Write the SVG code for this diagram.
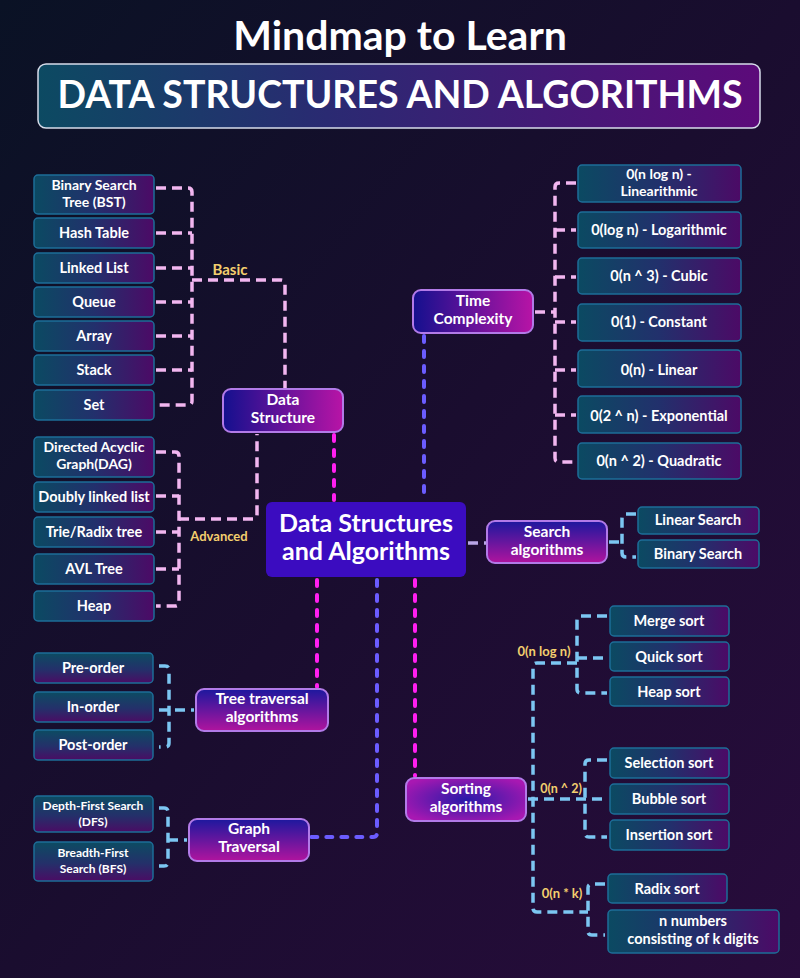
<svg xmlns="http://www.w3.org/2000/svg" width="800" height="978" viewBox="0 0 800 978">
<defs>
<linearGradient id="bg" x1="0" y1="0" x2="1" y2="1">
<stop offset="0" stop-color="#0a1225"/>
<stop offset="0.5" stop-color="#1a0d2f"/>
<stop offset="1" stop-color="#280c3c"/>
</linearGradient>
<linearGradient id="titleG" x1="0" y1="0" x2="1" y2="0">
<stop offset="0" stop-color="#0c4a62"/>
<stop offset="0.4" stop-color="#2a2a72"/>
<stop offset="1" stop-color="#5c0a7a"/>
</linearGradient>
<linearGradient id="leafH" x1="0" y1="0" x2="1" y2="0">
<stop offset="0" stop-color="#0b4a62"/>
<stop offset="0.5" stop-color="#22306c"/>
<stop offset="1" stop-color="#4c0a66"/>
</linearGradient>
<linearGradient id="leafV" x1="0" y1="0" x2="0" y2="1">
<stop offset="0" stop-color="#0c4c62"/>
<stop offset="0.55" stop-color="#24306a"/>
<stop offset="1" stop-color="#4a0c64"/>
</linearGradient>
<linearGradient id="catH" x1="0" y1="0" x2="1" y2="0">
<stop offset="0" stop-color="#14108e"/>
<stop offset="1" stop-color="#b814a6"/>
</linearGradient>
<linearGradient id="catV" x1="0" y1="0" x2="0" y2="1">
<stop offset="0" stop-color="#1c189e"/>
<stop offset="1" stop-color="#b0149e"/>
</linearGradient>
<radialGradient id="catR" cx="0.5" cy="0.5" r="0.6">
<stop offset="0" stop-color="#2a1aa8"/>
<stop offset="1" stop-color="#a818b2"/>
</radialGradient>
<style>
.t{font-family:Lato,"Noto Sans",sans-serif;font-weight:700;fill:#ffffff;text-anchor:middle}
.leaf{font-size:14.5px}
.l2{font-size:14px}
.sm{font-size:12px}
.cat{font-size:15.5px}
.lbl{font-family:Lato,"Noto Sans",sans-serif;font-weight:700;fill:#f3cf6e;text-anchor:middle}
.lh{fill:url(#leafH);stroke:#1d6d98;stroke-width:1.5}
.lv{fill:url(#leafV);stroke:#1d6d98;stroke-width:1.5}
.ch{fill:url(#catH);stroke:#b27ae8;stroke-width:2}
.cv{fill:url(#catV);stroke:#b27ae8;stroke-width:2}
.cr{fill:url(#catR);stroke:#b27ae8;stroke-width:2}
.c{fill:none;stroke-width:3.5}
.pink{stroke:#f2b6f0;stroke-dasharray:10 6}
.blue{stroke:#7cc6f2;stroke-dasharray:10 6}
.lav{stroke:#b9a5e8;stroke-dasharray:10 6}
.mag{stroke:#ff1ff0;stroke-dasharray:6 9;stroke-linecap:round;stroke-width:4}
.vio{stroke:#6b5cff;stroke-dasharray:6 9;stroke-linecap:round;stroke-width:4}
</style>
</defs>
<rect x="0" y="0" width="800" height="978" fill="url(#bg)"/>

<g id="title">
<text class="t" x="400" y="50" font-size="41">Mindmap to Learn</text>
<rect x="38" y="64" width="722" height="64" rx="8" fill="url(#titleG)" stroke="#d6dcea" stroke-width="1.5"/>
<text class="t" x="400" y="108" font-size="37.5">DATA STRUCTURES AND ALGORITHMS</text>
</g>

<g id="connectors">
<path class="c pink" d="M156 188 H188 Q192 188 192 192 V401 Q192 405 188 405 H156"/>
<path class="c pink" d="M156 233 H192 M156 268 H192 M156 302 H192 M156 336 H192 M156 370 H192"/>
<path class="c pink" d="M192 280 H281 Q285 280 285 284 V389"/>
<path class="c pink" d="M156 452 H175 Q179 452 179 456 V602 Q179 606 175 606 H156"/>
<path class="c pink" d="M156 496 H179 M156 532 H179 M156 569 H179"/>
<path class="c pink" d="M179 519 H253 Q257 519 257 515 V434"/>
<path class="c pink" d="M535 312 H555"/>
<path class="c pink" d="M576 183 H559 Q555 183 555 187 V458 Q555 462 559 462 H576"/>
<path class="c pink" d="M555 230 H576 M555 277 H576 M555 322 H576 M555 370 H576 M555 415 H576"/>
<path class="c vio" d="M424 336 V500"/>
<path class="c mag" d="M334 435 V500"/>
<path class="c lav" d="M468 543 H487"/>
<path class="c mag" d="M415 580 V776"/>
<path class="c mag" d="M317 580 V687"/>
<path class="c vio" d="M377 580 V833 Q377 837 373 837 H311"/>
<path class="c blue" d="M609 542 H622"/>
<path class="c blue" d="M636 514 H626 Q622 514 622 518 V553 Q622 557 626 557 H636"/>
<path class="c blue" d="M607 616 H581 Q577 616 577 620 V689 Q577 693 581 693 H607"/>
<path class="c blue" d="M577 658 H607"/>
<path class="c blue" d="M577 663 H537 Q533 663 533 667 V908 Q533 912 537 912 H588"/>
<path class="c blue" d="M528 799 H607"/>
<path class="c blue" d="M607 760 H589 Q585 760 585 764 V833 Q585 837 589 837 H607"/>
<path class="c blue" d="M605 884 H592 Q588 884 588 888 V931 Q588 935 592 935 H605"/>
<path class="c blue" d="M159 666 H165 Q169 666 169 670 V743 Q169 747 165 747 H159"/>
<path class="c blue" d="M159 710 H194"/>
<path class="c blue" d="M159 808 H164 Q168 808 168 812 V862 Q168 866 164 866 H159"/>
<path class="c blue" d="M168 840 H187"/>
</g>

<g id="labels">
<text class="lbl" x="230" y="275" font-size="15">Basic</text>
<text class="lbl" x="219" y="541" font-size="13">Advanced</text>
<text class="lbl" x="544" y="656" font-size="13">0(n log n)</text>
<text class="lbl" x="561" y="793" font-size="12.5">0(n ^ 2)</text>
<text class="lbl" x="562" y="898" font-size="13">0(n * k)</text>
</g>

<g id="main">
<rect x="266" y="502" width="200" height="75" rx="6" fill="#3b0cc0"/>
<text class="t" x="366" y="532" font-size="25">Data Structures</text>
<text class="t" x="366" y="560" font-size="25">and Algorithms</text>
</g>

<g id="data-structure">
<rect class="ch" x="223" y="389" width="120" height="43" rx="8"/>
<text class="t cat" x="283" y="405">Data</text>
<text class="t cat" x="283" y="423">Structure</text>
</g>
<g id="bst"><rect class="lh" x="34" y="175" width="120" height="39" rx="4"/><text class="t l2" x="94" y="190">Binary Search</text><text class="t l2" x="94" y="207">Tree (BST)</text></g>
<g id="hash-table"><rect class="lh" x="34" y="218" width="120" height="30" rx="4"/><text class="t leaf" x="94" y="238">Hash Table</text></g>
<g id="linked-list"><rect class="lh" x="34" y="253" width="120" height="30" rx="4"/><text class="t leaf" x="94" y="273">Linked List</text></g>
<g id="queue"><rect class="lh" x="34" y="287" width="120" height="30" rx="4"/><text class="t leaf" x="94" y="307">Queue</text></g>
<g id="array"><rect class="lh" x="34" y="321" width="120" height="30" rx="4"/><text class="t leaf" x="94" y="341">Array</text></g>
<g id="stack"><rect class="lh" x="34" y="355" width="120" height="30" rx="4"/><text class="t leaf" x="94" y="375">Stack</text></g>
<g id="set"><rect class="lh" x="34" y="390" width="120" height="30" rx="4"/><text class="t leaf" x="94" y="410">Set</text></g>

<g id="dag"><rect class="lh" x="34" y="437" width="120" height="40" rx="4"/><text class="t l2" x="94" y="452">Directed Acyclic</text><text class="t l2" x="94" y="469">Graph(DAG)</text></g>
<g id="doubly"><rect class="lh" x="34" y="482" width="120" height="30" rx="4"/><text class="t leaf" x="94" y="502">Doubly linked list</text></g>
<g id="trie"><rect class="lh" x="34" y="517" width="120" height="30" rx="4"/><text class="t leaf" x="94" y="537">Trie/Radix tree</text></g>
<g id="avl"><rect class="lh" x="34" y="554" width="120" height="30" rx="4"/><text class="t leaf" x="94" y="574">AVL Tree</text></g>
<g id="heap"><rect class="lh" x="34" y="591" width="120" height="30" rx="4"/><text class="t leaf" x="94" y="611">Heap</text></g>

<g id="time-complexity">
<rect class="ch" x="413" y="290" width="120" height="43" rx="8"/>
<text class="t cat" x="473" y="306">Time</text>
<text class="t cat" x="473" y="324">Complexity</text>
</g>
<g id="tc-nlogn"><rect class="lh" x="578" y="165" width="163" height="37" rx="4"/><text class="t l2" x="659" y="179">0(n log n) -</text><text class="t l2" x="659" y="196">Linearithmic</text></g>
<g id="tc-logn"><rect class="lh" x="578" y="212" width="163" height="36" rx="4"/><text class="t leaf" x="659" y="235">0(log n) - Logarithmic</text></g>
<g id="tc-n3"><rect class="lh" x="578" y="258" width="163" height="36" rx="4"/><text class="t leaf" x="659" y="281">0(n ^ 3) - Cubic</text></g>
<g id="tc-1"><rect class="lh" x="578" y="304" width="163" height="37" rx="4"/><text class="t leaf" x="659" y="327">0(1) - Constant</text></g>
<g id="tc-n"><rect class="lh" x="578" y="350" width="163" height="37" rx="4"/><text class="t leaf" x="659" y="375">0(n) - Linear</text></g>
<g id="tc-2n"><rect class="lh" x="578" y="396" width="163" height="37" rx="4"/><text class="t leaf" x="659" y="421">0(2 ^ n) - Exponential</text></g>
<g id="tc-n2"><rect class="lh" x="578" y="443" width="163" height="36" rx="4"/><text class="t leaf" x="659" y="466">0(n ^ 2) - Quadratic</text></g>

<g id="search">
<rect class="cv" x="487" y="521" width="120" height="42" rx="8"/>
<text class="t cat" x="547" y="537">Search</text>
<text class="t cat" x="547" y="555">algorithms</text>
</g>
<g id="linear-search"><rect class="lh" x="638" y="507" width="121" height="27" rx="4"/><text class="t leaf" x="698" y="525">Linear Search</text></g>
<g id="binary-search"><rect class="lh" x="638" y="540" width="121" height="28" rx="4"/><text class="t leaf" x="698" y="559">Binary Search</text></g>

<g id="sorting">
<rect class="cr" x="406" y="778" width="120" height="43" rx="8"/>
<text class="t cat" x="466" y="794">Sorting</text>
<text class="t cat" x="466" y="812">algorithms</text>
</g>
<g id="merge-sort"><rect class="lh" x="610" y="606" width="119" height="30" rx="4"/><text class="t leaf" x="669" y="626">Merge sort</text></g>
<g id="quick-sort"><rect class="lh" x="610" y="642" width="119" height="29" rx="4"/><text class="t leaf" x="669" y="662">Quick sort</text></g>
<g id="heap-sort"><rect class="lh" x="610" y="677" width="119" height="29" rx="4"/><text class="t leaf" x="669" y="697">Heap sort</text></g>
<g id="selection-sort"><rect class="lh" x="610" y="748" width="119" height="30" rx="4"/><text class="t leaf" x="669" y="768">Selection sort</text></g>
<g id="bubble-sort"><rect class="lh" x="610" y="784" width="119" height="30" rx="4"/><text class="t leaf" x="669" y="804">Bubble sort</text></g>
<g id="insertion-sort"><rect class="lh" x="610" y="820" width="119" height="30" rx="4"/><text class="t leaf" x="669" y="840">Insertion sort</text></g>
<g id="radix-sort"><rect class="lh" x="608" y="874" width="119" height="29" rx="4"/><text class="t leaf" x="667" y="894">Radix sort</text></g>
<g id="n-numbers"><rect class="lh" x="608" y="910" width="171" height="43" rx="4"/><text class="t leaf" x="693" y="926">n numbers</text><text class="t leaf" x="693" y="944">consisting of k digits</text></g>

<g id="tree-traversal">
<rect class="cv" x="196" y="689" width="132" height="42" rx="8"/>
<text class="t cat" x="262" y="704">Tree traversal</text>
<text class="t cat" x="262" y="722">algorithms</text>
</g>
<g id="pre-order"><rect class="lv" x="34" y="653" width="119" height="30" rx="4"/><text class="t leaf" x="93" y="673">Pre-order</text></g>
<g id="in-order"><rect class="lv" x="34" y="692" width="119" height="30" rx="4"/><text class="t leaf" x="93" y="712">In-order</text></g>
<g id="post-order"><rect class="lv" x="34" y="730" width="119" height="30" rx="4"/><text class="t leaf" x="93" y="750">Post-order</text></g>

<g id="graph-traversal">
<rect class="cv" x="189" y="819" width="120" height="42" rx="8"/>
<text class="t cat" x="249" y="834">Graph</text>
<text class="t cat" x="249" y="852">Traversal</text>
</g>
<g id="dfs"><rect class="lv" x="34" y="796" width="119" height="36" rx="4"/><text class="t sm" x="93" y="810">Depth-First Search</text><text class="t sm" x="93" y="826">(DFS)</text></g>
<g id="bfs"><rect class="lv" x="34" y="842" width="119" height="39" rx="4"/><text class="t sm" x="93" y="857">Breadth-First</text><text class="t sm" x="93" y="873">Search (BFS)</text></g>
</svg>
